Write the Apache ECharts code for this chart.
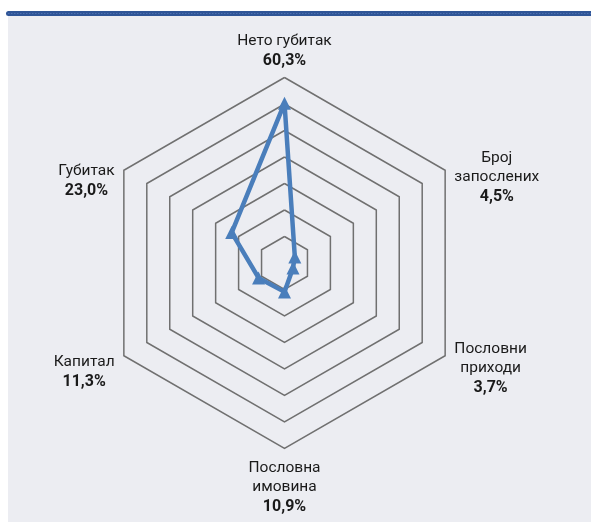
<!DOCTYPE html>
<html>
<head>
<meta charset="utf-8">
<script src="https://cdn.jsdelivr.net/npm/echarts@6/dist/echarts.min.js"></script>
<style>
  html, body { margin: 0; padding: 0; background: #ffffff; }
  #chart { width: 591px; height: 525px; }
</style>
</head>
<body>
<div id="chart"></div>
<script>
// Indicators listed counter-clockwise from the top (ECharts radar order)
const categories = ['Нето губитак', 'Губитак', 'Капитал', 'Пословна\nимовина', 'Пословни\nприходи', 'Број\nзапослених'];
const values = [60.3, 23.0, 11.3, 10.9, 3.7, 4.5];
const maxValue = 70;
const ringCount = 7;

// vertical nudges (spacer heights) for labels
const spacer = { 'Губитак': 28, 'Капитал': 28, 'Пословни\nприходи': 21, 'Број\nзапослених': 22, 'Пословна\nимовина': 4 };

function fmtPct(v) { return v.toFixed(1).replace('.', ',') + '%'; }

const chart = echarts.init(document.getElementById('chart'), null, { renderer: 'canvas' });

const option = {
  animation: false,
  backgroundColor: '#ffffff',
  graphic: [
    { type: 'rect', z: -10, shape: { x: 8, y: 15, width: 583, height: 507 }, style: { fill: '#ECEDF2' } },
    { type: 'rect', z: -9, shape: { x: 6, y: 11, width: 585, height: 5, r: [2.5, 0, 0, 2.5] }, style: { fill: '#2F5597' } },
    { type: 'line', z: -8, shape: { x1: 8, y1: 13.5, x2: 591, y2: 13.5 }, style: { stroke: '#4C6FB0', lineWidth: 1, lineDash: [1.5, 1.5] } }
  ],
  radar: {
    center: [284.5, 263],
    radius: 185.5,
    startAngle: 90,
    splitNumber: ringCount,
    shape: 'polygon',
    nameGap: 6,
    indicator: categories.map(function (c) { return { name: c, min: 0, max: maxValue }; }),
    axisName: {
      color: '#1a1a1a',
      fontFamily: 'Roboto',
      padding: [0, 4, 0, 4],
      formatter: function (name) {
        const idx = categories.indexOf(name);
        const lines = name.split('\n').map(function (l) { return '{n|' + l + '}'; });
        lines.push('{v|' + fmtPct(values[idx]) + '}');
        let txt = lines.join('\n');
        if (spacer[name]) {
          txt = '{sp' + spacer[name] + '|}\n' + txt;
        }
        return txt;
      },
      rich: {
        n: { fontSize: 15.5, fontFamily: 'Roboto', color: '#1a1a1a', lineHeight: 19, align: 'center' },
        v: { fontSize: 16, fontFamily: 'Roboto', fontWeight: 'bold', color: '#1a1a1a', lineHeight: 21, align: 'center' },
        sp4: { height: 4, lineHeight: 4 },
        sp21: { height: 21, lineHeight: 21 },
        sp22: { height: 22, lineHeight: 22 },
        sp28: { height: 28, lineHeight: 28 }
      }
    },
    axisLine: { show: false },
    axisTick: { show: false },
    axisLabel: { show: false },
    splitArea: { show: false },
    splitLine: { lineStyle: { color: '#707070', width: 1.5 } }
  },
  series: [{
    type: 'radar',
    symbol: 'triangle',
    symbolSize: 13,
    lineStyle: { color: '#4A7EBB', width: 4.5 },
    itemStyle: { color: '#4A7EBB' },
    data: [{ value: values, name: 'Показатељи' }]
  }]
};

chart.setOption(option);
</script>
</body>
</html>
